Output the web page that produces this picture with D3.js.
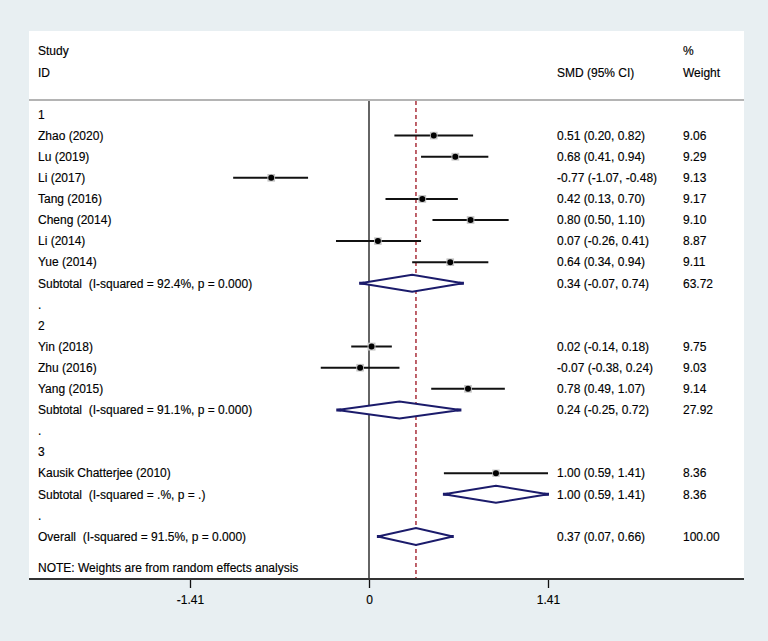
<!DOCTYPE html>
<html>
<head>
<meta charset="utf-8">
<script src="https://cdn.jsdelivr.net/npm/d3@7"></script>
<style>
  html, body { margin: 0; padding: 0; background: #e8eff2; }
  svg { display: block; }
  text { font-family: "Liberation Sans", Arial, sans-serif; font-size: 12px; fill: #000; white-space: pre; stroke: #000; stroke-width: 0.15px; }
</style>
</head>
<body>
<script>
// ---- data ----
const rowLabels = [
  "1", "Zhao (2020)", "Lu (2019)", "Li (2017)", "Tang (2016)", "Cheng (2014)", "Li (2014)", "Yue (2014)",
  "Subtotal  (I-squared = 92.4%, p = 0.000)", ".",
  "2", "Yin (2018)", "Zhu (2016)", "Yang (2015)",
  "Subtotal  (I-squared = 91.1%, p = 0.000)", ".",
  "3", "Kausik Chatterjee (2010)",
  "Subtotal  (I-squared = .%, p = .)", ".",
  "Overall  (I-squared = 91.5%, p = 0.000)"
];
const rowTypes = [
  "group", "study", "study", "study", "study", "study", "study", "study", "pooled", "blank",
  "group", "study", "study", "study", "pooled", "blank",
  "group", "study", "pooled", "blank", "pooled"
];
const estimates = [null, 0.51, 0.68, -0.77, 0.42, 0.80, 0.07, 0.64, 0.34, null,
  null, 0.02, -0.07, 0.78, 0.24, null, null, 1.00, 1.00, null, 0.37];
const lowerCI = [null, 0.20, 0.41, -1.07, 0.13, 0.50, -0.26, 0.34, -0.07, null,
  null, -0.14, -0.38, 0.49, -0.25, null, null, 0.59, 0.59, null, 0.07];
const upperCI = [null, 0.82, 0.94, -0.48, 0.70, 1.10, 0.41, 0.94, 0.74, null,
  null, 0.18, 0.24, 1.07, 0.72, null, null, 1.41, 1.41, null, 0.66];
const weights = [null, 9.06, 9.29, 9.13, 9.17, 9.10, 8.87, 9.11, 63.72, null,
  null, 9.75, 9.03, 9.14, 27.92, null, null, 8.36, 8.36, null, 100.00];
const tickValues = [-1.41, 0, 1.41];
const tickLabels = ["-1.41", "0", "1.41"];
const overallEffect = 0.37;
const headerLeft = ["Study", "ID"];
const headerCI = "SMD (95% CI)";
const headerWeight = ["%", "Weight"];
const note = "NOTE: Weights are from random effects analysis";

// ---- layout ----
const W = 768, H = 641;
const panel = { left: 29, right: 744, top: 31, bottom: 579 };
const headerLineY = 100;
const colLabel = 38, colCI = 557, colW = 683;

const svg = d3.select("body").append("svg").attr("width", W).attr("height", H);

svg.append("rect").attr("x", panel.left).attr("y", panel.top)
  .attr("width", panel.right - panel.left).attr("height", panel.bottom - panel.top)
  .attr("fill", "#ffffff");

const x = d3.scaleLinear().domain([-1.41, 1.41]).range([190, 548]);
const y = d3.scaleLinear().domain([0, 20]).range([114.5, 536.5]);

// header
svg.append("text").attr("x", colLabel).attr("y", 51).attr("dy", "0.35em").text(headerLeft[0]);
svg.append("text").attr("x", colLabel).attr("y", 73).attr("dy", "0.35em").text(headerLeft[1]);
svg.append("text").attr("x", colCI).attr("y", 73).attr("dy", "0.35em").text(headerCI);
svg.append("text").attr("x", colW).attr("y", 51).attr("dy", "0.35em").text(headerWeight[0]);
svg.append("text").attr("x", colW).attr("y", 73).attr("dy", "0.35em").text(headerWeight[1]);

svg.append("line").attr("x1", panel.left).attr("x2", panel.right)
  .attr("y1", headerLineY).attr("y2", headerLineY)
  .attr("stroke", "#b4b4b4").attr("stroke-width", 2);

// zero line
svg.append("line").attr("x1", x(0)).attr("x2", x(0))
  .attr("y1", headerLineY + 1).attr("y2", panel.bottom)
  .attr("stroke", "#111").attr("stroke-width", 1.3);

// overall dashed line
svg.append("line").attr("x1", x(overallEffect)).attr("x2", x(overallEffect))
  .attr("y1", headerLineY + 1).attr("y2", panel.bottom)
  .attr("stroke", "#a3202c").attr("stroke-width", 1.4)
  .attr("stroke-dasharray", "4,3");

const rows = rowLabels.map((label, i) => ({
  i, label, type: rowTypes[i], est: estimates[i], lo: lowerCI[i], hi: upperCI[i], w: weights[i]
}));

// labels
svg.append("g").selectAll("text").data(rows).join("text")
  .attr("x", colLabel).attr("y", d => y(d.i)).attr("dy", "0.35em")
  .attr("xml:space", "preserve")
  .text(d => d.label);

const valued = rows.filter(d => d.est !== null);
svg.append("g").selectAll("text").data(valued).join("text")
  .attr("x", colCI).attr("y", d => y(d.i)).attr("dy", "0.35em")
  .text(d => `${d.est.toFixed(2)} (${d.lo.toFixed(2)}, ${d.hi.toFixed(2)})`);
svg.append("g").selectAll("text").data(valued).join("text")
  .attr("x", colW).attr("y", d => y(d.i)).attr("dy", "0.35em")
  .text(d => d.w.toFixed(2));

// study CIs
const studies = rows.filter(d => d.type === "study");
const sg = svg.append("g");
sg.selectAll("line").data(studies).join("line")
  .attr("x1", d => x(d.lo)).attr("x2", d => x(d.hi))
  .attr("y1", d => y(d.i)).attr("y2", d => y(d.i))
  .attr("stroke", "#111").attr("stroke-width", 2);
const box = d3.scaleSqrt().domain([0, 10]).range([0, 8]);
sg.selectAll("rect").data(studies).join("rect")
  .attr("x", d => x(d.est) - box(d.w) / 2).attr("y", d => y(d.i) - box(d.w) / 2)
  .attr("width", d => box(d.w)).attr("height", d => box(d.w))
  .attr("fill", "#c4c4c4");
sg.selectAll("circle").data(studies).join("circle")
  .attr("cx", d => x(d.est)).attr("cy", d => y(d.i)).attr("r", 3)
  .attr("fill", "#000");

// diamonds
const pooled = rows.filter(d => d.type === "pooled");
const hh = 8.5;
svg.append("g").selectAll("path").data(pooled).join("path")
  .attr("d", d => {
    const cy = y(d.i);
    return `M${x(d.lo)},${cy} L${x(d.est)},${cy - hh} L${x(d.hi)},${cy} L${x(d.est)},${cy + hh} Z`;
  })
  .attr("fill", "#fff").attr("stroke", "#1b1b6b").attr("stroke-width", 2)
  .attr("stroke-linejoin", "miter");
// small end caps at diamond tips
svg.append("g").selectAll("path").data(pooled).join("path")
  .attr("d", d => {
    const cy = y(d.i);
    return `M${x(d.lo) - 1},${cy} h5 M${x(d.hi) + 1},${cy} h-5`;
  })
  .attr("stroke", "#1b1b6b").attr("stroke-width", 3);

// note
svg.append("text").attr("x", colLabel).attr("y", 568).attr("dy", "0.35em").text(note);

// axis
const axis = d3.axisBottom(x).tickValues(tickValues)
  .tickFormat((d, i) => tickLabels[i]).tickSize(9).tickPadding(7);
const ag = svg.append("g").attr("transform", `translate(0,${panel.bottom})`).call(axis);
ag.select(".domain").remove();
ag.selectAll(".tick line").attr("stroke", "#111").attr("stroke-width", 1.3);
ag.selectAll(".tick text").attr("fill", "#000")
  .style("font-family", '"Liberation Sans", Arial, sans-serif').style("font-size", "12px");
svg.append("line").attr("x1", panel.left).attr("x2", panel.right)
  .attr("y1", panel.bottom).attr("y2", panel.bottom)
  .attr("stroke", "#333").attr("stroke-width", 2);
</script>
</body>
</html>
